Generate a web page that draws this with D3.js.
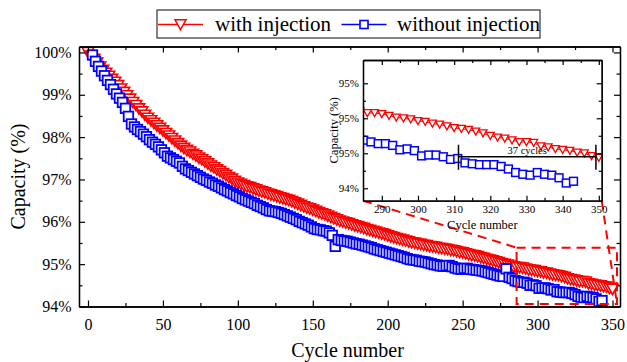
<!DOCTYPE html>
<html><head><meta charset="utf-8">
<script src="https://cdn.jsdelivr.net/npm/d3@7"></script>
<style>
body{margin:0;background:#fff;}
svg{display:block;}
text{font-family:"Liberation Serif","Times New Roman",serif;fill:#000;}
</style>
</head><body>
<svg id="c" width="627" height="362"></svg>
<script>
// ---------------- data ----------------
const seriesNames = ["with injection", "without injection"];

const redCycles = [0,2,4,6,8,10,12,14,16,18,20,22,24,26,28,30,32,34,36,38,40,42,44,46,48,50,52,54,56,58,60,62,64,66,68,70,72,74,76,78,80,82,84,86,88,90,92,94,96,98,100,102,104,106,108,110,112,114,116,118,120,122,124,126,128,130,132,134,136,138,140,142,144,146,148,150,152,154,156,158,160,162,164,166,168,170,172,174,176,178,180,182,184,186,188,190,192,194,196,198,200,202,204,206,208,210,212,214,216,218,220,222,224,226,228,230,232,234,236,238,240,242,244,246,248,250,252,254,256,258,260,262,264,266,268,270,272,274,276,278,280,282,284,286,288,290,292,294,296,298,300,302,304,306,308,310,312,314,316,318,320,322,324,326,328,330,332,334,336,338,340,342,344,346,348,350];
const redValues = [100.00,99.92,99.84,99.75,99.66,99.58,99.51,99.44,99.37,99.30,99.22,99.14,99.06,98.98,98.90,98.82,98.75,98.67,98.60,98.52,98.45,98.39,98.33,98.27,98.21,98.15,98.09,98.03,97.97,97.91,97.85,97.79,97.74,97.69,97.65,97.60,97.56,97.51,97.47,97.42,97.37,97.32,97.28,97.23,97.19,97.14,97.10,97.05,97.01,96.96,96.92,96.89,96.86,96.83,96.81,96.78,96.76,96.73,96.71,96.69,96.66,96.64,96.62,96.60,96.57,96.55,96.53,96.51,96.48,96.45,96.42,96.39,96.36,96.33,96.31,96.28,96.25,96.22,96.19,96.17,96.14,96.11,96.08,96.05,96.02,96.00,95.98,95.96,95.93,95.91,95.89,95.87,95.85,95.82,95.80,95.78,95.76,95.74,95.72,95.70,95.67,95.65,95.63,95.61,95.59,95.57,95.55,95.53,95.51,95.50,95.48,95.47,95.45,95.44,95.42,95.41,95.40,95.38,95.37,95.36,95.35,95.33,95.32,95.30,95.28,95.27,95.25,95.23,95.21,95.20,95.18,95.16,95.14,95.12,95.10,95.08,95.06,95.04,95.02,95.00,94.98,94.96,94.94,94.92,94.92,94.91,94.89,94.87,94.86,94.85,94.83,94.82,94.80,94.79,94.77,94.75,94.74,94.73,94.71,94.69,94.66,94.64,94.63,94.61,94.59,94.59,94.58,94.54,94.53,94.51,94.50,94.49,94.47,94.46,94.43,94.41];

const blueCycles = [3,5,7,9,11,13,15,17,19,21,23,25,27,29,31,33,35,37,39,41,43,45,47,49,51,53,55,57,59,61,63,65,67,69,71,73,75,77,79,81,83,85,87,89,91,93,95,97,99,101,103,105,107,109,111,113,115,117,119,121,123,125,127,129,131,133,135,137,139,141,143,145,147,149,151,153,155,157,159,161,163,165,167,169,171,173,175,177,179,181,183,185,187,189,191,193,195,197,199,201,203,205,207,209,211,213,215,217,219,221,223,225,227,229,231,233,235,237,239,241,243,245,247,249,251,253,255,257,259,261,263,265,267,269,271,273,275,277,279,281,283,285,287,289,291,293,295,297,299,301,303,305,307,309,311,313,315,317,319,321,323,325,327,329,331,333,335,337,339,341,343];
const blueValues = [99.94,99.79,99.67,99.56,99.45,99.34,99.24,99.13,99.02,98.92,98.82,98.68,98.49,98.31,98.24,98.18,98.13,98.07,98.01,97.94,97.88,97.83,97.77,97.70,97.63,97.55,97.51,97.47,97.43,97.39,97.31,97.25,97.21,97.17,97.13,97.09,97.05,97.01,96.98,96.94,96.91,96.87,96.84,96.80,96.76,96.73,96.69,96.66,96.62,96.59,96.55,96.52,96.49,96.46,96.43,96.39,96.36,96.33,96.29,96.26,96.25,96.24,96.22,96.20,96.17,96.14,96.11,96.08,96.05,96.01,95.98,95.95,95.92,95.88,95.84,95.82,95.81,95.79,95.78,95.74,95.68,95.42,95.58,95.56,95.55,95.54,95.52,95.50,95.48,95.47,95.45,95.43,95.41,95.39,95.36,95.34,95.32,95.30,95.28,95.26,95.24,95.22,95.20,95.18,95.16,95.13,95.11,95.10,95.09,95.07,95.06,95.05,95.03,95.01,94.99,94.98,94.96,94.95,94.96,94.97,94.94,94.91,94.89,94.88,94.90,94.90,94.88,94.87,94.86,94.85,94.84,94.82,94.80,94.78,94.76,94.74,94.72,94.71,94.89,94.69,94.66,94.61,94.59,94.57,94.57,94.55,94.50,94.51,94.49,94.43,94.44,94.44,94.42,94.39,94.40,94.35,94.34,94.33,94.33,94.33,94.31,94.28,94.24,94.22,94.21,94.24,94.22,94.21,94.18,94.12,94.14];

const xTicks = [0,50,100,150,200,250,300,350];
const yTicks = [94,95,96,97,98,99,100];
const yTickLabels = ["94%","95%","96%","97%","98%","99%","100%"];
const insetXTicks = [290,300,310,320,330,340,350];
const insetYTicks = [94.06,94.46,94.86,95.26];
const insetYTickLabels = ["94%","95%","95%","95%"];
const annotationCycles = [311.2, 349.2];
const annotationLevel = 94.42;
const annotationLabel = "37 cycles";
const zoomBoxCycles = [286, 353];
const zoomBoxValues = [94.06, 95.39];

// ---------------- setup ----------------
const RED = "#ff0000", BLUE = "#0000ff";
const svg = d3.select("#c");
const P = {l:79, r:620, t:46.5, b:306.5};
const x = d3.scaleLinear().domain([-6, 355]).range([P.l, P.r]);
const y = d3.scaleLinear().domain([94, 100.14]).range([P.b, P.t]);

const red = redCycles.map((c,i)=>({c, v:redValues[i]})).filter(d=>d.v!==undefined);
const blue = blueCycles.map((c,i)=>({c, v:blueValues[i]})).filter(d=>d.v!==undefined);

const triPath = s => `M${-4.6*s},${-3.9*s}L${4.6*s},${-3.9*s}L0,${4.3*s}Z`;

function styleAxis(g, fs){
  g.attr("color","#000").attr("font-family",'"Liberation Serif","Times New Roman",serif').attr("font-size",fs);
  g.selectAll("path.domain").attr("stroke-width",1.3);
  g.selectAll(".tick line").attr("stroke-width",1.2);
}
const mids = arr => arr.slice(1).map((d,i)=>(d+arr[i])/2);

function drawAxes(root, xs, ys, box, xt, yt, ylab, o){
  const xm = mids(xt), ym = mids(yt);
  root.append("g").attr("transform",`translate(0,${box.b})`)
    .call(d3.axisBottom(xs).tickValues(xm).tickSize(-o.minor).tickSizeOuter(0).tickFormat(""))
    .call(g=>styleAxis(g,o.fs));
  root.append("g").attr("transform",`translate(0,${box.b})`)
    .call(d3.axisBottom(xs).tickValues(xt).tickSize(-o.major).tickSizeOuter(0).tickPadding(o.xpad).tickFormat(d=>String(d)))
    .call(g=>styleAxis(g,o.fs));
  root.append("g").attr("transform",`translate(0,${box.t})`)
    .call(d3.axisTop(xs).tickValues(xm).tickSize(-o.minor).tickSizeOuter(0).tickFormat(""))
    .call(g=>styleAxis(g,o.fs));
  root.append("g").attr("transform",`translate(0,${box.t})`)
    .call(d3.axisTop(xs).tickValues(xt).tickSize(-o.major).tickSizeOuter(0).tickFormat(""))
    .call(g=>styleAxis(g,o.fs));
  root.append("g").attr("transform",`translate(${box.l},0)`)
    .call(d3.axisLeft(ys).tickValues(ym).tickSize(-o.minor).tickSizeOuter(0).tickFormat(""))
    .call(g=>styleAxis(g,o.fs));
  root.append("g").attr("transform",`translate(${box.l},0)`)
    .call(d3.axisLeft(ys).tickValues(yt).tickSize(-o.major).tickSizeOuter(0).tickPadding(o.ypad).tickFormat((d,i)=>ylab[i]))
    .call(g=>styleAxis(g,o.fs));
  root.append("g").attr("transform",`translate(${box.r},0)`)
    .call(d3.axisRight(ys).tickValues(ym).tickSize(-o.minor).tickSizeOuter(0).tickFormat(""))
    .call(g=>styleAxis(g,o.fs));
  root.append("g").attr("transform",`translate(${box.r},0)`)
    .call(d3.axisRight(ys).tickValues(yt).tickSize(-o.major).tickSizeOuter(0).tickFormat(""))
    .call(g=>styleAxis(g,o.fs));
}

function drawSeries(root, xs, ys, redData, blueData, o){
  const line = d3.line().x(d=>xs(d.c)).y(d=>ys(d.v));
  root.append("path").datum(redData).attr("d",line).attr("fill","none").attr("stroke",RED).attr("stroke-width",1);
  root.append("g").selectAll("path").data(redData).join("path")
    .attr("transform",d=>`translate(${xs(d.c)},${ys(d.v)})`)
    .attr("d",triPath(o.tri)).attr("fill","#fff").attr("stroke",RED).attr("stroke-width",o.rsw);
  root.append("path").datum(blueData).attr("d",line).attr("fill","none").attr("stroke",BLUE).attr("stroke-width",1);
  const h = o.sq/2;
  root.append("g").selectAll("rect").data(blueData).join("rect")
    .attr("x",d=>xs(d.c)-h).attr("y",d=>ys(d.v)-h).attr("width",o.sq).attr("height",o.sq)
    .attr("fill","#fff").attr("stroke",BLUE).attr("stroke-width",o.bsw);
}

// ---------------- main plot ----------------
const main = svg.append("g");
drawSeries(main, x, y, red, blue, {tri:1.25, rsw:1.6, sq:9.5, bsw:1.8});
drawAxes(main, x, y, P, xTicks, yTicks, yTickLabels, {major:6, minor:3.5, fs:16, xpad:12, ypad:7.5});

main.append("text").attr("x",(P.l+P.r)/2-2).attr("y",357).attr("text-anchor","middle")
  .attr("font-size",20).text("Cycle number");
main.append("text").attr("transform",`translate(25,${(P.t+P.b)/2}) rotate(-90)`).attr("text-anchor","middle")
  .attr("font-size",20).text("Capacity (%)");

// ---------------- inset ----------------
const IB = {l:363, r:601.7, t:60, b:200.7};
const xi = d3.scaleLinear().domain([284.8, 350.8]).range([IB.l, IB.r]);
const yi = d3.scaleLinear().domain([93.918, 95.526]).range([IB.b, IB.t]);

const dash = {stroke:RED, "stroke-width":2, "stroke-dasharray":"9,6", fill:"none"};
const zb = {l:x(zoomBoxCycles[0]), r:x(zoomBoxCycles[1]), t:y(zoomBoxValues[1]), b:y(zoomBoxValues[0])};
const zg = svg.append("g");
function dashed(sel){ Object.entries(dash).forEach(([k,v])=>sel.attr(k,v)); return sel; }
dashed(zg.append("rect").attr("x",zb.l).attr("y",zb.t).attr("width",zb.r-zb.l).attr("height",zb.b-zb.t));
dashed(zg.append("line").attr("x1",IB.l).attr("y1",IB.b).attr("x2",zb.l).attr("y2",zb.t));
dashed(zg.append("line").attr("x1",IB.r).attr("y1",IB.b).attr("x2",zb.r).attr("y2",zb.b));

const inset = svg.append("g");
inset.append("rect").attr("x",IB.l).attr("y",IB.t).attr("width",IB.r-IB.l).attr("height",IB.b-IB.t).attr("fill","#fff");
svg.append("clipPath").attr("id","iclip").append("rect")
  .attr("x",IB.l).attr("y",IB.t).attr("width",IB.r-IB.l).attr("height",IB.b-IB.t);
const inData = inset.append("g").attr("clip-path","url(#iclip)");
const inRange = d => d.c >= xi.domain()[0]-2 && d.c <= xi.domain()[1]+2;
drawSeries(inData, xi, yi, red.filter(inRange), blue.filter(inRange), {tri:0.85, rsw:1.3, sq:7.8, bsw:1.5});

const ay = yi(annotationLevel);
const ax1 = xi(annotationCycles[0]), ax2 = xi(annotationCycles[1]);
const ann = inset.append("g").attr("stroke","#000").attr("stroke-width",1.5);
ann.append("line").attr("x1",ax1).attr("x2",ax2).attr("y1",ay).attr("y2",ay);
ann.append("line").attr("x1",ax1).attr("x2",ax1).attr("y1",ay-12).attr("y2",ay+13);
ann.append("line").attr("x1",ax2).attr("x2",ax2).attr("y1",ay-12).attr("y2",ay+13);
inset.append("text").attr("x",(ax1+ax2)/2).attr("y",ay-2.5).attr("text-anchor","middle")
  .attr("font-size",10.5).text(annotationLabel);

drawAxes(inset, xi, yi, IB, insetXTicks, insetYTicks, insetYTickLabels, {major:5, minor:3, fs:11, xpad:5, ypad:4});
inset.append("text").attr("x",(IB.l+IB.r)/2).attr("y",229).attr("text-anchor","middle")
  .attr("font-size",12.5).text("Cycle number");
inset.append("text").attr("transform",`translate(338,${(IB.t+IB.b)/2}) rotate(-90)`).attr("text-anchor","middle")
  .attr("font-size",12.5).text("Capacity (%)");

// ---------------- legend ----------------
const lg = svg.append("g");
lg.append("rect").attr("x",157).attr("y",10).attr("width",383).attr("height",28)
  .attr("fill","#fff").attr("stroke","#333").attr("stroke-width",1.2);
const legItems = [
  {name:seriesNames[0], color:RED, x0:158, x1:203, tx:215, sym:"tri"},
  {name:seriesNames[1], color:BLUE, x0:341.5, x1:386.5, tx:397, sym:"sq"}
];
legItems.forEach(it=>{
  const cy = 24.5, cx = (it.x0+it.x1)/2;
  lg.append("line").attr("x1",it.x0).attr("x2",it.x1).attr("y1",cy).attr("y2",cy).attr("stroke",it.color).attr("stroke-width",1.5);
  if(it.sym==="tri") lg.append("path").attr("transform",`translate(${cx},${cy})`).attr("d",triPath(1.2))
      .attr("fill","#fff").attr("stroke",it.color).attr("stroke-width",1.5);
  else lg.append("rect").attr("x",cx-4).attr("y",cy-4).attr("width",8).attr("height",8)
      .attr("fill","#fff").attr("stroke",it.color).attr("stroke-width",1.6);
  lg.append("text").attr("x",it.tx).attr("y",31).attr("font-size",21).text(it.name);
});
</script>
</body></html>
